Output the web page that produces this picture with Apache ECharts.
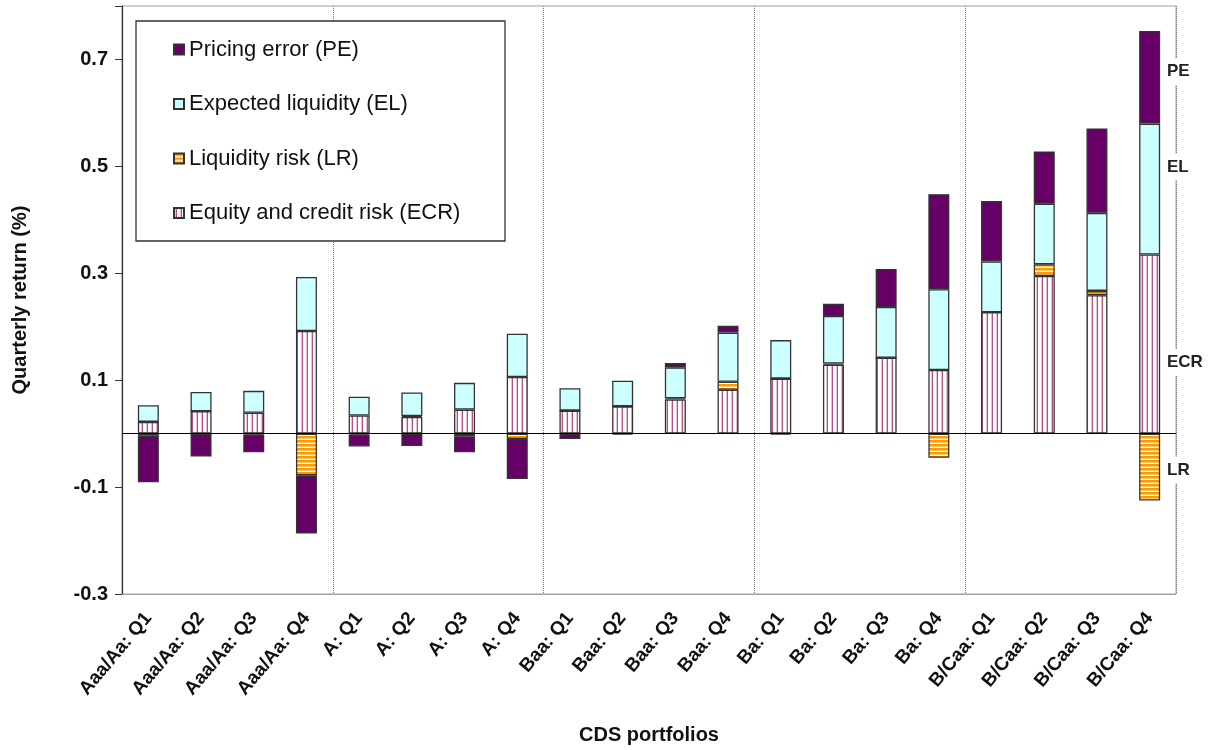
<!DOCTYPE html>
<html>
<head>
<meta charset="utf-8">
<script src="https://cdn.jsdelivr.net/npm/echarts@6/dist/echarts.min.js"></script>
<style>html,body{margin:0;padding:0;background:#fff;}#c{width:1211px;height:750px;}</style>
</head>
<body>
<div id="c"></div>
<script>
const categories = ['Aaa/Aa: Q1','Aaa/Aa: Q2','Aaa/Aa: Q3','Aaa/Aa: Q4','A: Q1','A: Q2','A: Q3','A: Q4','Baa: Q1','Baa: Q2','Baa: Q3','Baa: Q4','Ba: Q1','Ba: Q2','Ba: Q3','Ba: Q4','B/Caa: Q1','B/Caa: Q2','B/Caa: Q3','B/Caa: Q4'];
const ecrValues = [0.022, 0.042, 0.039, 0.192, 0.034, 0.031, 0.045, 0.106, 0.043, 0.051, 0.064, 0.082, 0.103, 0.129, 0.142, 0.119, 0.227, 0.295, 0.259, 0.335];
const lrValues  = [-0.004, 0, -0.002, -0.078, -0.002, 0.002, -0.005, -0.010, 0, 0, 0.002, 0.015, 0, 0.002, 0, -0.045, 0, 0.022, 0.008, -0.125];
const elValues  = [0.031, 0.036, 0.041, 0.101, 0.035, 0.044, 0.050, 0.081, 0.042, 0.048, 0.058, 0.092, 0.072, 0.089, 0.095, 0.151, 0.095, 0.113, 0.146, 0.245];
const peValues  = [-0.087, -0.043, -0.033, -0.109, -0.022, -0.023, -0.030, -0.075, -0.010, -0.002, 0.008, 0.013, -0.002, 0.023, 0.071, 0.178, 0.113, 0.098, 0.158, 0.173];
const seriesNames = ['Equity and credit risk (ECR)', 'Liquidity risk (LR)', 'Expected liquidity (EL)', 'Pricing error (PE)'];
const legendOrder = ['Pricing error (PE)', 'Expected liquidity (EL)', 'Liquidity risk (LR)', 'Equity and credit risk (ECR)'];
const sideLabels = ['PE', 'EL', 'ECR', 'LR'];
const sideLabelValues = [0.677, 0.499, 0.133, -0.068];
const yMin = -0.3, yMax = 0.8, yInterval = 0.2;

function makeStripes(vertical) {
  const c = document.createElement('canvas');
  if (vertical) {
    c.width = 5; c.height = 5;
    const g = c.getContext('2d');
    g.fillStyle = '#ffffff'; g.fillRect(0, 0, 5, 5);
    g.fillStyle = '#e6bfd4'; g.fillRect(1, 0, 1, 5);
    g.fillStyle = '#b5528a'; g.fillRect(2, 0, 1, 5);
  } else {
    c.width = 4; c.height = 4;
    const g = c.getContext('2d');
    g.fillStyle = '#ffffff'; g.fillRect(0, 0, 4, 4);
    g.fillStyle = '#ff9900'; g.fillRect(0, 0, 4, 2);
    g.fillStyle = '#ffc766'; g.fillRect(0, 2, 4, 1);
  }
  return c;
}

const chart = echarts.init(document.getElementById('c'), null, {renderer: 'canvas'});
const border = {borderColor: '#333333', borderWidth: 1.3};
const styles = [
  Object.assign({color: {image: makeStripes(true), repeat: 'repeat'}}, border),
  Object.assign({color: {image: makeStripes(false), repeat: 'repeat'}}, border),
  Object.assign({color: '#ccffff'}, border),
  Object.assign({color: '#660066'}, border)
];
const dataSets = [ecrValues, lrValues, elValues, peValues];

const series = seriesNames.map((name, i) => {
  const s = {
    name: name,
    type: 'bar',
    stack: 'total',
    barWidth: 21,
    data: dataSets[i],
    itemStyle: styles[i],
    emphasis: {disabled: true},
    animation: false
  };
  if (i === 0) {
    s.markLine = {
      silent: true,
      symbol: 'none',
      label: {show: false},
      lineStyle: {color: '#000', width: 1.2, type: 'solid'},
      data: [{yAxis: 0}],
      animation: false
    };
  }
  return s;
});

const option = {
  animation: false,
  backgroundColor: '#ffffff',
  textStyle: {fontFamily: 'Liberation Sans, Arial, sans-serif'},
  grid: {left: 122, right: 35, top: 6, bottom: 156, show: true, borderColor: '#a0a0a0', borderWidth: 1,
    backgroundColor: 'transparent', containLabel: false, outerBoundsMode: 'none'},
  legend: {
    data: legendOrder,
    orient: 'vertical',
    left: 173,
    top: 38,
    padding: 0,
    itemGap: 31.5,
    itemWidth: 10,
    itemHeight: 10,
    icon: 'rect',
    selectedMode: false,
    z: 10,
    textStyle: {fontSize: 22, lineHeight: 23, color: '#111', fontFamily: 'Liberation Sans, Arial, sans-serif'}
  },
  xAxis: {
    type: 'category',
    data: categories,
    boundaryGap: true,
    name: 'CDS portfolios',
    nameLocation: 'middle',
    nameGap: 131,
    nameTextStyle: {fontSize: 20, fontWeight: 'bold', color: '#111'},
    axisLine: {onZero: false, lineStyle: {color: '#a0a0a0', width: 1}},
    axisTick: {show: false},
    axisLabel: {rotate: 50, interval: 0, margin: 21, fontSize: 19, fontWeight: 'bold', color: '#111'},
    splitLine: {show: true, interval: function (i) { return i > 0 && i % 4 === 0; }, lineStyle: {color: '#777', type: 'dotted', width: 1}}
  },
  yAxis: {
    type: 'value',
    min: yMin,
    max: yMax,
    interval: yInterval,
    name: 'Quarterly return (%)',
    nameLocation: 'middle',
    nameGap: 92,
    nameTextStyle: {fontSize: 20, fontWeight: 'bold', color: '#111'},
    axisLine: {show: true, lineStyle: {color: '#333', width: 1.2}},
    axisTick: {show: true, length: 7, lineStyle: {color: '#333'}},
    axisLabel: {fontSize: 20, fontWeight: 'bold', color: '#111', margin: 14,
      formatter: function (v) { return Math.abs(v - yMax) < 1e-9 ? '' : (Math.round(v * 10) / 10).toFixed(1); }},
    splitLine: {show: false}
  },
  graphic: [{
    type: 'rect', z: 5, silent: true,
    shape: {x: 136, y: 21, width: 369, height: 220},
    style: {fill: '#ffffff', stroke: '#333333', lineWidth: 1.3}
  }],
  series: series
};
chart.setOption(option);

const gridRight = 1211 - 35;
const labelGraphics = sideLabels.map((t, i) => {
  const y = chart.convertToPixel({yAxisIndex: 0}, sideLabelValues[i]);
  return {
    type: 'text', z: 20, silent: true,
    x: gridRight - 9, y: y,
    style: {text: t, fill: '#222', font: 'bold 17px Liberation Sans, Arial, sans-serif', verticalAlign: 'middle', align: 'left',
      backgroundColor: '#ffffff', padding: [5, 2, 5, 0]}
  };
});
chart.setOption({graphic: option.graphic.concat(labelGraphics)});
</script>
</body>
</html>
